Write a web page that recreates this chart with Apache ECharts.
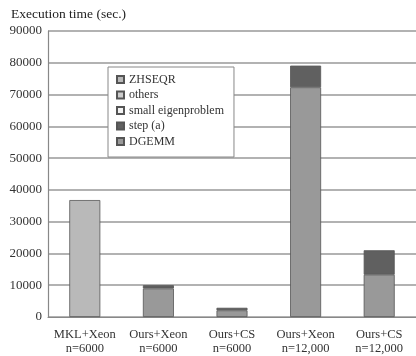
<!DOCTYPE html>
<html><head><meta charset="utf-8">
<script src="https://cdn.jsdelivr.net/npm/echarts@6/dist/echarts.min.js"></script>
<style>html,body{margin:0;padding:0;background:#fff}#c{width:416px;height:356px}</style>
</head><body><div id="c"></div>
<script>
var categories = ['MKL+Xeon\nn=6000', 'Ours+Xeon\nn=6000', 'Ours+CS\nn=6000', 'Ours+Xeon\nn=12,000', 'Ours+CS\nn=12,000'];
var dgemm  = ['-', 9000, 2100, 72300, 13300];
var stepA  = ['-', 1000, 800, 6800, 7700];
var smallEig = ['-', '-', '-', '-', '-'];
var others = ['-', '-', '-', '-', '-'];
var zhseqr = [36800, '-', '-', '-', '-'];
var legendNames = ['ZHSEQR', 'others', 'small eigenproblem', 'step (a)', 'DGEMM'];
var yTicks = [0, 90000, 10000];

var font = 'Liberation Serif';
function bar(name, data, color) {
  return {
    name: name, type: 'bar', stack: 'all', data: data, barWidth: 31,
    itemStyle: { color: color, borderColor: '#555', borderWidth: 0.8 }
  };
}
var chart = echarts.init(document.getElementById('c'));
chart.setOption({
  animation: false,
  backgroundColor: '#fff',
  title: {
    text: 'Execution time (sec.)', left: 6, top: 2,
    textStyle: { fontFamily: font, fontSize: 13.5, fontWeight: 'normal', color: '#222' }
  },
  legend: {
    data: legendNames, orient: 'vertical', left: 108, top: 67,
    backgroundColor: '#fff', borderColor: '#888', borderWidth: 1, borderRadius: 0,
    padding: [6, 10, 9, 8], itemGap: 2.5, itemWidth: 7, itemHeight: 7,
    icon: 'rect',
    textStyle: { fontFamily: font, fontSize: 12, color: '#333', lineHeight: 13 }
  },
  grid: { left: 48, top: 31, width: 373, height: 289 },
  xAxis: {
    type: 'category', data: categories,
    axisLine: { lineStyle: { color: '#888', width: 1.2 } },
    axisTick: { inside: true, length: 3, lineStyle: { color: '#888' } },
    axisLabel: { interval: 0, hideOverlap: false, fontFamily: font, fontSize: 12.5, color: '#333', lineHeight: 14, margin: 11 }
  },
  yAxis: {
    type: 'value', min: yTicks[0], max: yTicks[1], interval: yTicks[2],
    axisLine: { show: true, lineStyle: { color: '#888', width: 1.2 } },
    axisTick: { show: false },
    splitLine: { lineStyle: { color: '#999', width: 1.5 } },
    axisLabel: { fontFamily: font, fontSize: 13, color: '#333', margin: 6,
      formatter: function (v) { return String(v); } }
  },
  series: [
    bar('DGEMM', dgemm, '#999999'),
    bar('step (a)', stepA, '#606060'),
    bar('small eigenproblem', smallEig, '#f2f2f2'),
    bar('others', others, '#cccccc'),
    bar('ZHSEQR', zhseqr, '#b9b9b9')
  ]
});
</script></body></html>
